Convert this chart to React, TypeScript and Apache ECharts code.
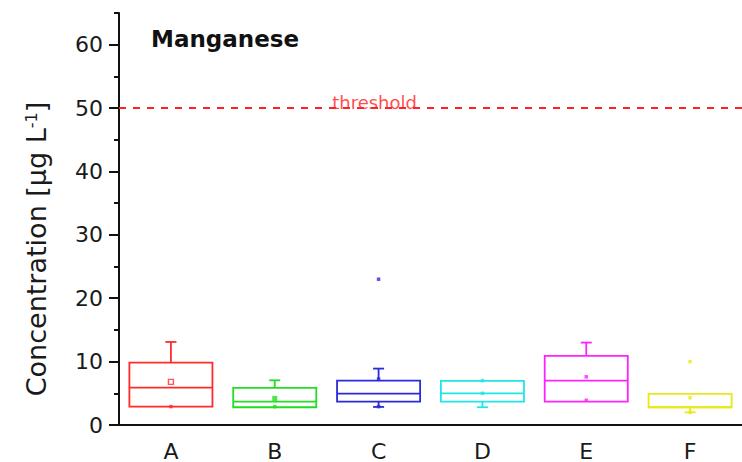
import React, { useEffect, useRef } from "react";
import * as echarts from "echarts";

// Sampling sites along the x axis
const categories = ["A", "B", "C", "D", "E", "F"];

// Box statistics per site, µg/L
const boxMin = [2.9, 2.8, 2.85, 2.8, 3.7, 2.0];
const boxQ1 = [2.9, 2.8, 3.7, 3.7, 3.7, 2.8];
const boxMedian = [5.9, 3.7, 4.95, 5.0, 7.0, 2.8];
const boxQ3 = [9.85, 5.85, 7.0, 6.95, 10.9, 4.9];
const boxMax = [13.1, 7.05, 8.9, 6.95, 13.0, 4.9];
const meanValues = [6.8, 4.2, 7.25, 5.0, 7.6, 4.3];

// Individual marker points (extremes and outliers)
const pointCategories = ["A", "B", "C", "C", "D", "E", "F", "F"];
const pointValues = [2.9, 2.9, 23, 2.9, 7.0, 3.9, 10, 2.0];

const thresholdValue = 50;
const yTickValues = [0, 10, 20, 30, 40, 50, 60];

const boxColors = ["#ff2b2b", "#22dd22", "#2b2bd9", "#1ee6e6", "#ff22ff", "#e8e81a"];

const FONT = "DejaVu Sans";

export default function App() {
  const ref = useRef<HTMLDivElement>(null);

  useEffect(() => {
    if (!ref.current) return;
    const chart = echarts.init(ref.current, null, { renderer: "svg" });

    const boxData = categories.map((_, i) => [i, boxMin[i], boxQ1[i], boxMedian[i], boxQ3[i], boxMax[i]]);

    const renderBox = (params: any, api: any) => {
      const idx = api.value(0);
      const color = boxColors[idx];
      const pMin = api.coord([idx, api.value(1)]);
      const pQ1 = api.coord([idx, api.value(2)]);
      const pMed = api.coord([idx, api.value(3)]);
      const pQ3 = api.coord([idx, api.value(4)]);
      const pMax = api.coord([idx, api.value(5)]);
      const band = api.size([1, 0])[0];
      const w = band * 0.8;
      const cx = pMed[0];
      const cap = 5.5;
      const lineStyle = { stroke: color, lineWidth: 1.8, fill: "none" };
      const children: any[] = [
        {
          type: "rect",
          shape: { x: cx - w / 2, y: pQ3[1], width: w, height: pQ1[1] - pQ3[1] },
          style: lineStyle,
        },
        {
          type: "line",
          shape: { x1: cx - w / 2, y1: pMed[1], x2: cx + w / 2, y2: pMed[1] },
          style: lineStyle,
        },
      ];
      if (api.value(5) > api.value(4)) {
        children.push(
          { type: "line", shape: { x1: cx, y1: pQ3[1], x2: cx, y2: pMax[1] }, style: lineStyle },
          { type: "line", shape: { x1: cx - cap, y1: pMax[1], x2: cx + cap, y2: pMax[1] }, style: lineStyle }
        );
      }
      if (api.value(1) < api.value(2)) {
        children.push(
          { type: "line", shape: { x1: cx, y1: pQ1[1], x2: cx, y2: pMin[1] }, style: lineStyle },
          { type: "line", shape: { x1: cx - cap, y1: pMin[1], x2: cx + cap, y2: pMin[1] }, style: lineStyle }
        );
      }
      return { type: "group", children };
    };

    const meanData = categories.map((c, i) => ({
      value: [c, meanValues[i]],
      symbolSize: i === 0 ? 5 : i === 1 ? 5 : 3.5,
      itemStyle: {
        color: i === 0 ? "#ffffff" : boxColors[i],
        borderColor: boxColors[i],
        borderWidth: i === 0 ? 1.4 : 0,
      },
    }));

    const pointData = pointCategories.map((c, i) => ({
      value: [c, pointValues[i]],
      itemStyle: { color: boxColors[categories.indexOf(c)] },
    }));

    chart.setOption({
      animation: false,
      backgroundColor: "#ffffff",
      title: {
        text: "Manganese",
        left: 146,
        top: 22,
        textStyle: { fontFamily: FONT, fontWeight: "bold", fontSize: 23, color: "#111111" },
      },
      grid: { left: 119, right: 0, top: 13, bottom: 35, containLabel: false },
      xAxis: {
        type: "category",
        data: categories,
        boundaryGap: true,
        axisLine: { lineStyle: { color: "#111111", width: 2 } },
        axisTick: { alignWithLabel: true, length: 9, lineStyle: { color: "#111111", width: 2 } },
        axisLabel: { fontFamily: FONT, fontSize: 22, color: "#1a1a1a", margin: 15 },
        splitLine: { show: false },
      },
      yAxis: [
        {
          type: "value",
          min: 0,
          max: 65,
          interval: 5,
          name: "{t|Concentration [μg L}{s|-1}{t|]}",
          nameLocation: "middle",
          nameGap: 69,
          nameRotate: 90,
          nameTextStyle: {
            padding: [0, 60, 0, 0],
            rich: {
              t: { fontFamily: FONT, fontSize: 27, color: "#1a1a1a" },
              s: { fontFamily: FONT, fontSize: 16, color: "#1a1a1a", verticalAlign: "top" },
            },
          },
          axisLine: { show: true, lineStyle: { color: "#111111", width: 2 } },
          axisTick: { show: true, length: 5, lineStyle: { color: "#111111", width: 2 } },
          axisLabel: {
            fontFamily: FONT,
            fontSize: 22,
            color: "#1a1a1a",
            margin: 16,
            formatter: (v: number) => (v % 10 === 0 ? String(v) : ""),
          },
          splitLine: { show: false },
        },
        {
          type: "value",
          position: "left",
          min: 0,
          max: 65,
          interval: 5,
          axisLine: { show: false },
          axisTick: { show: true, length: 10, customValues: yTickValues, lineStyle: { color: "#111111", width: 2 } },
          axisLabel: { show: false },
          splitLine: { show: false },
        },
      ],
      series: [
        {
          type: "custom",
          name: "box",
          data: boxData,
          renderItem: renderBox,
          encode: { x: 0, y: [1, 2, 3, 4, 5] },
          z: 2,
          markLine: {
            silent: true,
            symbol: "none",
            label: { show: false },
            lineStyle: { color: "#ff2222", width: 1.8, type: [7, 7] },
            data: [{ yAxis: thresholdValue }],
          },
        },
        {
          type: "scatter",
          name: "mean",
          symbol: "rect",
          data: meanData,
          z: 3,
        },
        {
          type: "scatter",
          name: "points",
          symbol: "rect",
          symbolSize: 3.5,
          data: pointData,
          z: 3,
        },
        {
          type: "scatter",
          name: "threshold",
          symbolSize: 0,
          data: [["C", thresholdValue]],
          label: {
            show: true,
            position: "top",
            distance: 0,
            offset: [-4, 3],
            formatter: "threshold",
            fontFamily: FONT,
            fontSize: 18,
            color: "#ff1a1a",
          },
          z: 4,
        },
      ],
    });

    return () => chart.dispose();
  }, []);

  return (
    <div
      ref={ref}
      style={{ position: "fixed", left: 0, top: 0, width: 742, height: 462, background: "#fff" }}
    />
  );
}
